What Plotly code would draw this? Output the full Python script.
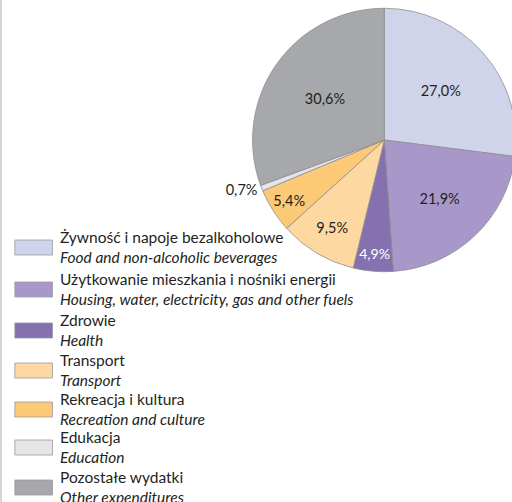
import plotly.graph_objects as go

labels_pl = ["Żywność i napoje bezalkoholowe", "Użytkowanie mieszkania i nośniki energii",
             "Zdrowie", "Transport", "Rekreacja i kultura", "Edukacja", "Pozostałe wydatki"]
labels_en = ["Food and non-alcoholic beverages", "Housing, water, electricity, gas and other fuels",
             "Health", "Transport", "Recreation and culture", "Education", "Other expenditures"]
values = [27.0, 21.9, 4.9, 9.5, 5.4, 0.7, 30.6]
colors = ["#CFD4EA", "#A898C9", "#8570B0", "#FDD9A1", "#FCC976", "#E5E5E7", "#A7A8AC"]
text_colors = ["#231F20", "#231F20", "#FFFFFF", "#231F20", "#231F20", "#231F20", "#231F20"]
text_pos = ["inside", "inside", "inside", "inside", "inside", "outside", "inside"]

W, H = 522, 502
FONT = "Lato"

fig = go.Figure()
fig.add_trace(go.Pie(
    labels=labels_pl, values=values, sort=False, direction="clockwise", rotation=0,
    marker=dict(colors=colors, line=dict(color="#8E8E92", width=0.8)),
    texttemplate="%{value:.1f}%", textposition=text_pos,
    insidetextorientation="horizontal",
    textfont=dict(family=FONT, size=14.5, color=text_colors),
    outsidetextfont=dict(family=FONT, size=14.5, color="#231F20"),
    domain=dict(x=[255 / W, 521 / W], y=[(H - 272) / H, (H - 8) / H]),
    showlegend=False, hoverinfo="skip",
))

# custom legend
sw_top = [240, 282, 323, 363, 402, 440, 480]
shapes = []
annotations = []
for i, (pl, en) in enumerate(zip(labels_pl, labels_en)):
    t = sw_top[i]
    shapes.append(dict(type="rect", xref="paper", yref="paper",
                       x0=15 / W, x1=53 / W, y0=1 - t / H, y1=1 - (t + 15) / H,
                       fillcolor=colors[i], line=dict(color="#9A9A9E", width=0.8)))
    annotations.append(dict(xref="paper", yref="paper", x=59 / W, y=1 - (t + 7) / H,
                            xanchor="left", yanchor="middle", showarrow=False, align="left",
                            text=f"{pl}<br><i>{en}</i>",
                            font=dict(family=FONT, size=15.5, color="#231F20")))

shapes.append(dict(type="line", xref="paper", yref="paper", x0=1 / W, x1=1 / W, y0=0, y1=1,
                   line=dict(color="#C8C8C8", width=1.5)))

fig.update_layout(
    width=W, height=H, margin=dict(l=0, r=0, t=0, b=0),
    paper_bgcolor="white", plot_bgcolor="white",
    separators=", ", shapes=shapes, annotations=annotations,
    font=dict(family=FONT),
)

fig.write_html("out.html", config={"displayModeBar": False},
               post_script="document.body.style.margin='0';document.body.style.overflow='hidden';")
